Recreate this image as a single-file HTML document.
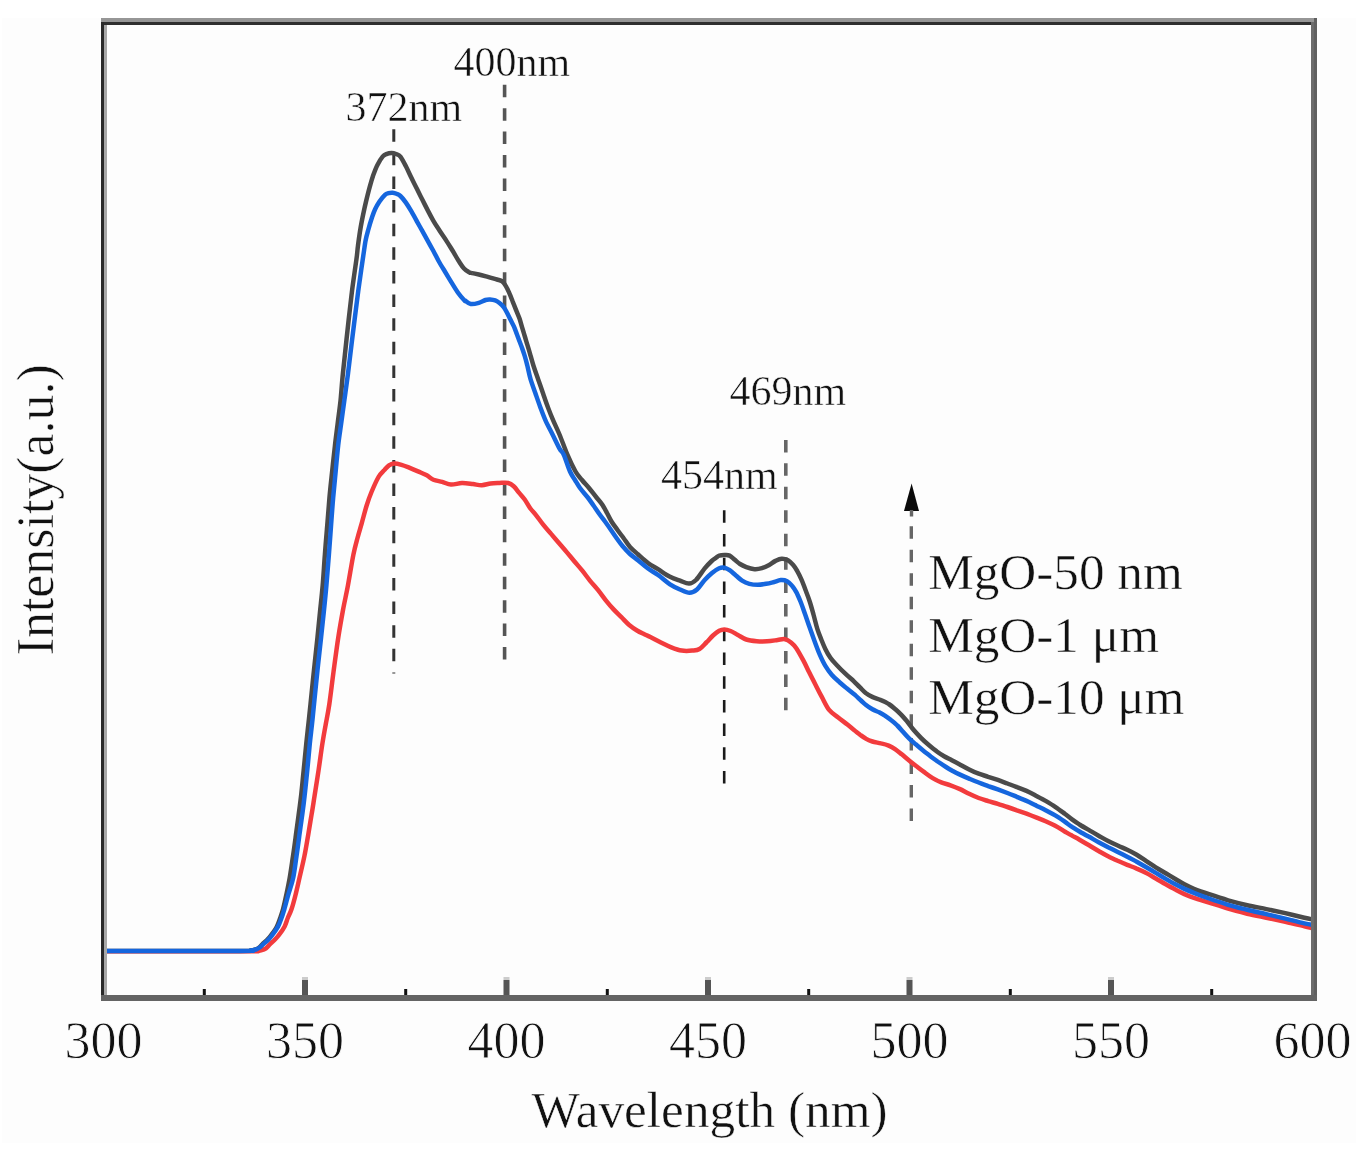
<!DOCTYPE html>
<html><head><meta charset="utf-8"><title>PL spectra</title>
<style>
html,body{margin:0;padding:0;background:#fff;}
body{width:1364px;height:1151px;overflow:hidden;font-family:"Liberation Serif", serif;}
svg{display:block;}
svg{will-change:transform;}
text{stroke:#fdfdfd;stroke-width:0.5px;paint-order:normal;}
text.tk{stroke-width:0.8px;}
</style></head><body>
<svg width="1364" height="1151" viewBox="0 0 1364 1151">
<rect x="0" y="0" width="1364" height="1151" fill="#ffffff"/>
<rect x="2" y="18" width="1354" height="1125" fill="#fdfdfd"/>
<line x1="393.8" y1="129.2" x2="393.8" y2="673.5" stroke="#333" stroke-width="3.0" stroke-dasharray="12.50,11.12" fill="none"/>
<line x1="504.6" y1="84.7" x2="504.6" y2="661.0" stroke="#555" stroke-width="3.6" stroke-dasharray="12.50,10.93" fill="none"/>
<line x1="724.2" y1="510.3" x2="724.2" y2="786.0" stroke="#1a1a1a" stroke-width="2.6" stroke-dasharray="12.50,11.20" fill="none"/>
<line x1="785.8" y1="439.9" x2="785.8" y2="711.0" stroke="#666" stroke-width="3.6" stroke-dasharray="12.50,10.95" fill="none"/>
<line x1="911.3" y1="526.2" x2="911.3" y2="821.0" stroke="#666" stroke-width="3.4" stroke-dasharray="12.50,11.02" fill="none"/>
<path d="M911.6,483.5 L904,511 L919,511 Z" fill="#0a0a0a"/>
<rect x="909.8" y="510" width="3.4" height="6.5" fill="#666"/>
<path d="M104.0,950.9 C126.7,950.9 215.7,950.9 240.0,950.9 C264.3,950.9 247.4,950.8 250.0,950.6 C252.6,950.4 253.9,950.0 255.5,949.5 C257.1,949.0 258.3,948.2 259.5,947.3 C260.7,946.4 261.2,945.3 262.5,944.1 C263.8,942.9 265.6,941.5 267.0,940.0 C268.4,938.5 269.4,937.6 271.0,935.4 C272.6,933.2 275.3,929.6 276.8,926.7 C278.3,923.8 279.2,920.9 280.2,918.0 C281.2,915.1 281.9,913.3 283.0,909.3 C284.1,905.3 285.4,899.2 286.5,894.0 C287.6,888.8 288.6,884.1 289.7,877.8 C290.8,871.5 291.9,863.4 293.0,856.1 C294.1,848.9 295.1,841.1 296.0,834.3 C296.9,827.4 297.8,821.4 298.6,815.0 C299.5,808.6 300.2,803.2 301.1,795.7 C302.0,788.2 302.8,778.7 303.7,770.0 C304.6,761.3 305.5,751.2 306.3,743.5 C307.1,735.8 307.7,730.5 308.4,724.0 C309.1,717.5 309.6,713.3 310.5,704.3 C311.4,695.3 312.8,681.2 314.0,670.0 C315.2,658.8 316.5,647.3 317.5,637.3 C318.5,627.3 319.3,618.7 320.2,610.0 C321.1,601.3 321.9,594.4 322.7,585.2 C323.5,576.0 324.1,564.5 324.9,554.6 C325.6,544.7 326.4,535.5 327.2,526.0 C328.0,516.5 328.7,506.5 329.5,497.3 C330.3,488.1 331.3,479.7 332.2,471.0 C333.1,462.3 334.1,453.3 335.0,445.2 C335.9,437.1 336.9,430.0 337.8,422.5 C338.7,415.0 339.8,408.0 340.6,400.0 C341.4,392.0 341.8,384.3 342.8,374.4 C343.8,364.5 344.9,353.7 346.4,340.5 C347.8,327.3 350.2,306.1 351.5,295.2 C352.8,284.3 353.3,281.6 354.2,275.0 C355.1,268.4 356.3,260.6 356.9,255.7 C357.5,250.8 357.4,249.9 358.0,245.5 C358.6,241.1 359.5,234.1 360.4,229.0 C361.2,223.9 362.1,219.5 363.1,214.7 C364.1,209.9 365.2,204.9 366.3,200.4 C367.4,195.9 368.5,191.4 369.6,187.4 C370.7,183.4 371.6,179.9 372.9,176.2 C374.2,172.5 375.6,168.5 377.3,165.2 C379.0,161.9 381.2,158.3 382.8,156.4 C384.4,154.5 385.5,154.4 387.0,153.8 C388.5,153.2 390.1,153.1 391.6,153.1 C393.1,153.1 394.5,153.4 396.0,154.0 C397.5,154.6 398.8,154.5 400.4,156.6 C402.0,158.7 404.1,162.8 405.9,166.3 C407.7,169.8 409.6,174.1 411.4,177.8 C413.2,181.6 415.1,185.1 416.9,188.8 C418.7,192.5 420.6,196.2 422.4,199.8 C424.2,203.4 426.1,207.1 427.9,210.6 C429.7,214.1 431.5,217.5 433.4,220.8 C435.3,224.1 437.3,227.1 439.5,230.5 C441.7,233.9 444.4,237.7 446.6,241.1 C448.8,244.5 450.8,247.8 452.8,251.0 C454.8,254.2 456.5,257.6 458.4,260.5 C460.3,263.4 462.1,266.5 464.0,268.5 C465.9,270.5 468.4,271.8 469.5,272.5 C470.6,273.2 469.2,272.6 470.8,272.9 C472.4,273.2 476.0,273.9 478.8,274.5 C481.6,275.1 484.8,276.0 487.8,276.8 C490.8,277.6 494.5,278.8 496.9,279.5 C499.3,280.2 500.8,280.3 502.2,281.3 C503.6,282.3 504.5,283.7 505.6,285.6 C506.8,287.5 507.9,290.0 509.1,292.6 C510.3,295.2 511.5,298.4 512.6,301.3 C513.8,304.2 514.9,307.0 516.0,309.9 C517.1,312.8 518.5,315.7 519.5,318.6 C520.5,321.5 521.2,324.4 522.1,327.3 C523.0,330.2 523.8,333.1 524.7,336.0 C525.6,338.9 526.4,341.8 527.3,344.7 C528.2,347.6 528.9,349.8 529.9,353.3 C530.9,356.8 532.0,361.1 533.4,365.5 C534.8,369.9 536.6,374.8 538.2,379.4 C539.8,384.0 541.4,388.7 543.0,393.3 C544.6,397.9 546.1,402.6 547.9,407.2 C549.6,411.8 551.5,416.5 553.5,421.1 C555.5,425.7 557.4,429.4 559.7,435.0 C562.0,440.6 564.9,448.9 567.5,455.0 C570.1,461.1 573.1,467.3 575.5,471.5 C577.9,475.7 579.8,477.2 582.0,480.0 C584.2,482.8 586.6,485.1 589.0,488.0 C591.4,490.9 594.2,494.7 596.5,497.5 C598.8,500.3 600.8,502.4 602.5,505.0 C604.2,507.6 605.5,510.2 607.0,513.0 C608.5,515.8 609.8,518.7 611.5,521.5 C613.2,524.3 615.5,527.2 617.5,530.0 C619.5,532.8 621.4,535.2 623.5,538.0 C625.6,540.8 627.5,544.2 630.0,547.0 C632.5,549.8 635.2,551.8 638.2,554.5 C641.2,557.2 644.7,560.5 648.0,563.0 C651.3,565.5 654.3,566.9 658.0,569.2 C661.7,571.5 666.3,574.8 670.0,576.7 C673.7,578.6 676.8,579.5 680.0,580.6 C683.2,581.8 686.3,583.7 689.0,583.6 C691.7,583.5 693.4,582.5 696.0,580.0 C698.6,577.5 702.1,571.6 704.7,568.4 C707.3,565.2 709.8,562.8 711.7,561.0 C713.6,559.2 714.8,558.7 716.0,557.8 C717.2,556.9 717.8,556.0 719.2,555.6 C720.6,555.2 722.7,555.1 724.4,555.1 C726.1,555.1 727.9,554.8 729.6,555.6 C731.3,556.4 733.1,558.4 734.8,559.8 C736.5,561.2 738.1,562.8 740.0,564.0 C741.9,565.2 743.9,566.2 746.3,567.1 C748.7,568.0 752.0,569.0 754.6,569.2 C757.2,569.4 759.5,568.9 761.9,568.2 C764.3,567.5 766.9,566.2 769.2,565.0 C771.5,563.8 773.4,561.9 775.5,560.9 C777.6,559.9 779.6,558.9 781.7,558.8 C783.8,558.7 786.1,559.3 788.0,560.3 C789.9,561.3 791.6,563.2 793.2,565.0 C794.8,566.8 796.0,568.9 797.4,571.3 C798.8,573.7 800.1,576.5 801.5,579.6 C802.9,582.7 804.1,586.4 805.5,590.0 C806.9,593.6 808.4,597.3 809.7,601.5 C811.1,605.7 812.3,610.4 813.6,615.0 C814.9,619.6 816.1,625.0 817.4,629.1 C818.7,633.2 820.0,636.2 821.3,639.5 C822.6,642.8 823.7,645.7 825.2,648.7 C826.7,651.8 828.5,655.0 830.4,657.8 C832.3,660.6 834.5,662.7 836.9,665.2 C839.3,667.8 842.0,670.5 844.8,673.1 C847.6,675.8 851.4,679.0 853.9,681.3 C856.4,683.7 858.0,685.5 860.0,687.4 C862.0,689.4 863.7,691.4 865.7,693.0 C867.8,694.6 869.8,695.8 872.3,696.9 C874.8,698.1 878.3,698.9 881.0,700.1 C883.7,701.2 886.3,702.4 888.7,704.0 C891.1,705.5 893.3,707.5 895.4,709.3 C897.5,711.1 899.2,712.7 901.1,714.6 C903.0,716.6 904.7,718.5 906.8,721.0 C908.9,723.6 911.1,726.8 913.5,729.7 C915.9,732.5 918.7,735.5 921.2,738.1 C923.8,740.7 926.2,742.8 928.8,745.0 C931.3,747.2 934.0,749.4 936.5,751.2 C939.0,753.1 941.6,754.7 944.1,756.2 C946.6,757.7 949.2,758.9 951.8,760.3 C954.4,761.7 956.9,763.0 959.8,764.5 C962.7,766.1 966.0,768.0 969.1,769.5 C972.2,771.1 975.5,772.5 978.7,773.7 C981.9,774.9 985.0,775.7 988.2,776.8 C991.4,777.8 994.6,778.8 997.8,779.9 C1001.0,781.0 1004.2,782.3 1007.4,783.5 C1010.6,784.7 1013.7,785.8 1016.9,787.1 C1020.1,788.3 1023.3,789.5 1026.5,790.9 C1029.7,792.3 1032.8,794.0 1036.0,795.7 C1039.2,797.3 1042.4,799.1 1045.6,800.9 C1048.8,802.8 1052.0,804.7 1055.2,806.8 C1058.4,808.9 1061.9,811.6 1064.7,813.7 C1067.5,815.8 1069.5,817.5 1072.0,819.3 C1074.5,821.1 1076.7,822.6 1079.5,824.5 C1082.3,826.3 1085.9,828.3 1089.1,830.1 C1092.3,832.0 1095.4,833.9 1098.6,835.7 C1101.8,837.5 1104.9,839.4 1108.1,841.0 C1111.3,842.6 1114.5,844.1 1117.7,845.5 C1120.9,847.0 1124.0,848.3 1127.2,849.8 C1130.4,851.3 1133.5,852.9 1136.7,854.8 C1139.9,856.7 1143.1,859.0 1146.3,861.1 C1149.5,863.2 1152.6,865.3 1155.8,867.3 C1159.0,869.3 1162.1,871.1 1165.3,873.0 C1168.5,874.9 1171.7,876.9 1174.9,878.7 C1178.1,880.6 1181.2,882.6 1184.4,884.3 C1187.6,886.0 1189.8,887.1 1193.9,888.8 C1198.0,890.4 1203.4,892.3 1209.1,894.2 C1214.8,896.1 1221.8,898.4 1228.1,900.3 C1234.4,902.1 1240.8,903.7 1247.2,905.2 C1253.6,906.6 1260.0,907.8 1266.3,909.1 C1272.6,910.4 1278.9,911.7 1285.3,913.1 C1291.7,914.6 1299.8,916.6 1304.4,917.7 C1309.0,918.8 1311.6,919.3 1313.0,919.6" fill="none" stroke="#4a4a4a" stroke-width="4.5" stroke-linejoin="round"/>
<path d="M104.0,951.3 C127.5,951.3 219.8,951.3 245.0,951.3 C270.2,951.2 252.3,951.2 255.0,951.0 C257.7,950.8 259.2,950.8 261.0,950.3 C262.8,949.8 264.5,949.3 266.0,948.3 C267.5,947.3 268.6,945.5 270.0,944.1 C271.4,942.7 273.1,941.5 274.5,940.0 C275.9,938.5 276.9,937.6 278.6,935.4 C280.3,933.2 283.0,929.6 284.5,926.7 C286.0,923.8 286.6,920.9 287.8,918.0 C289.0,915.1 290.2,913.1 291.5,909.3 C292.8,905.5 294.2,900.2 295.5,895.0 C296.8,889.8 298.0,884.3 299.5,877.8 C301.0,871.3 302.9,863.4 304.4,856.1 C305.9,848.9 307.1,841.1 308.3,834.3 C309.5,827.4 310.4,821.4 311.5,815.0 C312.6,808.6 313.4,803.2 314.6,795.7 C315.8,788.2 317.3,778.7 318.6,770.0 C319.9,761.3 321.2,751.2 322.4,743.5 C323.6,735.8 324.6,730.5 325.8,724.0 C327.0,717.5 328.0,713.0 329.3,704.3 C330.6,695.6 332.0,683.2 333.5,672.0 C335.0,660.8 336.7,647.6 338.3,637.3 C339.9,627.0 341.4,618.7 343.0,610.0 C344.6,601.3 346.3,594.4 348.0,585.2 C349.7,576.0 351.8,562.5 353.4,554.6 C355.0,546.7 356.1,543.2 357.5,538.0 C358.9,532.8 360.2,528.6 361.7,523.3 C363.2,518.0 364.9,511.2 366.5,506.0 C368.1,500.8 369.5,496.8 371.5,492.0 C373.5,487.2 376.4,480.7 378.5,477.0 C380.6,473.3 382.6,471.9 384.4,470.0 C386.1,468.1 387.4,466.4 389.0,465.3 C390.6,464.2 391.9,463.6 394.0,463.5 C396.1,463.4 399.0,464.1 401.5,464.8 C404.0,465.5 406.4,466.5 409.2,467.6 C411.9,468.7 415.1,470.1 418.0,471.4 C420.9,472.7 424.2,473.9 426.8,475.3 C429.4,476.7 430.8,478.6 433.4,479.7 C436.0,480.8 439.3,481.1 442.2,481.9 C445.1,482.7 447.7,484.4 451.0,484.6 C454.3,484.8 458.3,483.1 462.0,483.0 C465.7,482.9 469.7,483.7 473.0,484.1 C476.3,484.5 478.9,485.3 481.8,485.2 C484.7,485.1 487.7,483.9 490.6,483.5 C493.5,483.1 496.5,483.1 499.4,483.0 C502.3,482.9 505.8,482.4 508.2,483.0 C510.6,483.6 511.9,484.7 513.7,486.3 C515.5,487.9 517.4,490.7 519.2,492.9 C521.0,495.1 522.9,496.9 524.7,499.5 C526.5,502.1 528.4,505.8 530.2,508.3 C532.0,510.8 533.2,511.6 535.4,514.3 C537.6,517.0 540.6,521.4 543.2,524.7 C545.8,528.0 548.5,530.9 551.1,533.9 C553.7,536.9 556.3,540.0 558.9,543.0 C561.5,546.0 564.1,549.0 566.7,552.1 C569.3,555.2 571.9,558.4 574.5,561.5 C577.1,564.6 579.7,567.5 582.3,570.7 C584.9,573.9 587.5,577.6 590.1,580.8 C592.7,584.0 595.3,586.6 597.9,589.9 C600.5,593.1 603.2,597.0 605.8,600.3 C608.4,603.5 611.0,606.6 613.6,609.4 C616.2,612.2 618.8,614.6 621.4,617.2 C624.0,619.8 626.6,622.8 629.2,625.0 C631.8,627.2 634.4,628.9 637.0,630.5 C639.6,632.1 642.6,633.4 644.8,634.5 C647.0,635.6 647.7,635.7 650.4,637.0 C653.1,638.3 657.4,640.8 660.9,642.5 C664.4,644.2 667.8,646.0 671.3,647.4 C674.8,648.8 678.2,650.1 681.7,650.6 C685.2,651.1 689.2,650.9 692.2,650.6 C695.2,650.3 697.1,650.4 699.5,649.0 C701.9,647.6 704.5,644.2 706.8,642.0 C709.0,639.8 710.9,637.4 713.0,635.5 C715.1,633.6 717.3,631.8 719.2,630.8 C721.1,629.8 722.4,629.5 724.3,629.5 C726.2,629.5 728.3,630.1 730.6,631.0 C732.9,631.9 735.3,633.6 737.9,635.0 C740.5,636.4 743.2,638.5 746.3,639.5 C749.4,640.5 753.2,640.9 756.7,641.2 C760.2,641.5 763.6,641.5 767.1,641.3 C770.6,641.1 774.6,640.4 777.6,640.0 C780.6,639.6 782.8,638.8 785.0,639.2 C787.2,639.6 789.1,640.9 791.0,642.4 C792.9,643.9 794.2,645.2 796.3,648.2 C798.3,651.2 801.1,656.3 803.3,660.4 C805.5,664.5 807.3,668.5 809.3,672.6 C811.3,676.7 813.4,680.7 815.5,684.7 C817.6,688.8 819.5,692.7 821.8,696.9 C824.1,701.1 826.4,706.5 829.1,709.9 C831.8,713.3 835.2,715.0 838.2,717.4 C841.2,719.9 844.4,722.2 847.4,724.6 C850.4,727.1 854.4,730.2 856.5,731.9 C858.6,733.6 858.5,733.5 860.0,734.7 C861.5,735.8 863.6,737.5 865.7,738.6 C867.8,739.8 869.9,740.7 872.4,741.5 C874.9,742.3 878.3,742.7 881.0,743.4 C883.7,744.0 886.3,744.6 888.7,745.6 C891.1,746.6 893.2,747.8 895.4,749.3 C897.6,750.8 899.7,752.7 902.1,754.6 C904.5,756.6 907.2,759.0 909.7,761.0 C912.2,763.1 914.9,765.1 917.4,767.0 C919.9,769.0 922.5,770.9 925.0,772.7 C927.5,774.6 930.0,776.5 932.7,778.1 C935.4,779.7 938.3,781.2 941.3,782.4 C944.3,783.6 947.4,784.2 950.5,785.3 C953.6,786.4 956.9,787.7 960.0,789.1 C963.1,790.5 966.0,792.3 969.1,793.8 C972.2,795.3 975.5,796.8 978.7,798.0 C981.9,799.2 985.0,800.1 988.2,801.1 C991.4,802.1 994.6,802.9 997.8,803.9 C1001.0,804.9 1004.2,806.0 1007.4,807.0 C1010.6,808.1 1013.7,809.2 1016.9,810.4 C1020.1,811.5 1023.3,812.6 1026.5,813.7 C1029.7,814.9 1032.8,816.1 1036.0,817.3 C1039.2,818.6 1042.4,819.8 1045.6,821.2 C1048.8,822.6 1052.0,824.1 1055.2,825.8 C1058.4,827.5 1061.9,829.8 1064.7,831.5 C1067.5,833.1 1069.5,834.3 1072.0,835.6 C1074.5,837.0 1076.7,838.1 1079.5,839.7 C1082.3,841.3 1085.9,843.4 1089.1,845.3 C1092.3,847.2 1095.4,849.2 1098.6,851.0 C1101.8,852.8 1104.9,854.6 1108.1,856.2 C1111.3,857.8 1114.5,859.3 1117.7,860.8 C1120.9,862.2 1124.0,863.5 1127.2,864.8 C1130.4,866.1 1133.5,867.2 1136.7,868.6 C1139.9,869.9 1143.1,871.4 1146.3,873.1 C1149.5,874.7 1152.6,876.7 1155.8,878.5 C1159.0,880.3 1162.1,882.2 1165.3,884.0 C1168.5,885.8 1171.7,887.6 1174.9,889.3 C1178.1,891.0 1181.2,892.7 1184.4,894.1 C1187.6,895.5 1189.8,896.4 1193.9,897.8 C1198.0,899.2 1203.4,900.8 1209.1,902.6 C1214.8,904.4 1221.8,906.8 1228.1,908.6 C1234.4,910.5 1240.8,912.1 1247.2,913.7 C1253.6,915.2 1260.0,916.4 1266.3,917.7 C1272.6,919.0 1278.9,920.3 1285.3,921.7 C1291.7,923.1 1299.8,925.1 1304.4,926.2 C1309.0,927.3 1311.6,927.9 1313.0,928.2" fill="none" stroke="#f23b3d" stroke-width="4.5" stroke-linejoin="round"/>
<path d="M104.0,950.9 C126.7,950.9 215.7,950.9 240.0,950.9 C264.3,950.9 247.3,950.8 250.0,950.6 C252.7,950.4 254.3,950.0 256.0,949.5 C257.7,949.0 258.8,948.2 260.0,947.3 C261.2,946.4 262.0,945.3 263.3,944.1 C264.6,942.9 266.6,941.5 268.0,940.0 C269.4,938.5 270.3,937.6 272.0,935.4 C273.7,933.2 276.4,929.6 278.0,926.7 C279.6,923.8 280.4,920.9 281.5,918.0 C282.6,915.1 283.1,913.3 284.3,909.3 C285.5,905.3 287.0,899.2 288.5,894.0 C290.0,888.8 291.9,884.1 293.2,877.8 C294.5,871.5 295.4,863.4 296.5,856.1 C297.6,848.9 298.6,841.1 299.5,834.3 C300.4,827.4 301.3,821.4 302.2,815.0 C303.1,808.6 303.8,803.2 304.6,795.7 C305.5,788.2 306.4,778.7 307.3,770.0 C308.2,761.3 309.0,751.2 309.8,743.5 C310.6,735.8 311.3,730.5 312.0,724.0 C312.7,717.5 313.1,713.3 314.0,704.3 C314.9,695.3 316.3,681.2 317.5,670.0 C318.7,658.8 320.0,647.3 321.1,637.3 C322.2,627.3 323.1,618.7 324.0,610.0 C324.9,601.3 325.6,594.4 326.4,585.2 C327.2,576.0 328.1,564.5 328.9,554.6 C329.7,544.7 330.3,535.5 331.0,526.0 C331.7,516.5 332.4,506.5 333.2,497.3 C334.0,488.1 334.9,479.7 335.7,471.0 C336.5,462.3 337.3,453.3 338.2,445.2 C339.1,437.1 340.3,430.0 341.3,422.5 C342.3,415.0 343.3,408.0 344.4,400.0 C345.5,392.0 346.6,384.3 347.9,374.4 C349.2,364.5 350.4,353.7 352.0,340.5 C353.6,327.3 356.3,306.1 357.7,295.2 C359.1,284.3 359.6,281.6 360.5,275.0 C361.4,268.4 362.4,261.5 363.3,255.7 C364.2,249.9 364.8,244.4 365.7,240.0 C366.6,235.6 367.5,232.7 368.5,229.0 C369.5,225.3 370.7,221.3 371.8,218.0 C372.9,214.7 373.8,211.9 375.1,209.2 C376.4,206.4 377.9,203.9 379.5,201.5 C381.1,199.1 383.5,196.3 385.0,194.9 C386.5,193.5 387.2,193.6 388.5,193.2 C389.8,192.8 391.4,192.6 392.7,192.7 C394.0,192.8 395.2,193.2 396.5,193.8 C397.8,194.4 398.8,194.5 400.4,196.0 C402.0,197.5 404.1,200.0 405.9,202.6 C407.7,205.2 409.6,208.3 411.4,211.4 C413.2,214.5 415.1,218.0 416.9,221.3 C418.7,224.6 420.6,227.9 422.4,231.2 C424.2,234.5 426.1,237.8 427.9,241.1 C429.7,244.4 431.6,247.7 433.4,251.0 C435.2,254.3 436.7,257.6 438.6,261.0 C440.5,264.4 442.7,267.9 444.9,271.5 C447.1,275.1 449.4,279.0 451.6,282.6 C453.8,286.2 456.1,290.0 458.2,293.0 C460.3,296.0 463.3,299.2 464.5,300.5 C465.7,301.8 464.1,300.0 465.2,300.6 C466.2,301.2 468.5,303.6 470.8,304.0 C473.1,304.4 476.4,303.5 478.8,302.8 C481.2,302.1 483.6,300.6 485.5,300.0 C487.4,299.4 488.4,299.4 490.0,299.5 C491.6,299.6 493.6,299.8 495.2,300.4 C496.8,301.0 498.1,301.9 499.5,303.0 C500.9,304.1 502.6,305.6 503.9,307.3 C505.2,309.0 506.2,311.2 507.4,313.4 C508.5,315.6 509.7,318.0 510.8,320.3 C511.9,322.6 513.3,325.0 514.3,327.3 C515.3,329.6 516.0,331.9 516.9,334.2 C517.8,336.5 518.6,338.9 519.5,341.2 C520.4,343.5 521.2,345.7 522.1,348.1 C523.0,350.6 523.8,353.0 524.7,355.9 C525.6,358.8 526.3,361.6 527.3,365.5 C528.3,369.4 529.2,374.8 530.6,379.4 C532.0,384.0 533.8,388.7 535.4,393.3 C537.0,397.9 538.6,402.6 540.3,407.2 C542.0,411.8 543.7,416.5 545.8,421.1 C547.9,425.7 550.5,430.4 552.8,435.0 C555.1,439.6 557.9,445.6 559.7,448.9 C561.6,452.2 562.2,451.2 563.9,455.0 C565.6,458.8 568.1,467.3 570.0,471.5 C571.9,475.7 573.3,477.2 575.0,480.0 C576.7,482.8 577.9,485.1 580.0,488.0 C582.1,490.9 585.5,494.6 587.8,497.5 C590.0,500.4 591.6,502.8 593.5,505.5 C595.4,508.2 597.1,510.8 599.0,513.5 C600.9,516.2 603.0,518.8 605.0,521.5 C607.0,524.2 609.1,527.2 611.0,530.0 C612.9,532.8 614.6,535.3 616.5,538.0 C618.4,540.7 620.2,543.3 622.5,546.0 C624.8,548.7 627.4,551.6 630.0,554.0 C632.6,556.4 635.2,558.0 638.2,560.4 C641.2,562.8 644.7,566.1 648.0,568.5 C651.3,570.9 654.3,572.3 658.0,574.9 C661.7,577.5 666.3,581.9 670.0,584.3 C673.7,586.7 676.8,588.1 680.0,589.5 C683.2,590.9 686.7,592.8 689.5,592.8 C692.3,592.8 694.5,591.6 697.0,589.5 C699.5,587.4 702.2,582.7 704.7,580.0 C707.2,577.3 709.3,575.2 711.7,573.2 C714.1,571.2 717.1,569.1 719.2,568.2 C721.3,567.3 722.7,567.3 724.4,567.6 C726.1,567.9 727.7,568.9 729.6,570.2 C731.5,571.5 733.8,573.8 735.9,575.5 C738.0,577.2 739.9,579.3 742.1,580.7 C744.4,582.1 746.8,583.1 749.4,583.8 C752.0,584.5 755.0,584.8 757.8,584.8 C760.6,584.8 763.5,584.2 766.1,583.8 C768.7,583.4 771.0,582.8 773.4,582.2 C775.8,581.6 778.4,580.3 780.7,580.1 C783.0,579.9 785.1,580.2 787.0,581.2 C788.9,582.2 790.7,584.1 792.2,585.9 C793.8,587.7 794.9,589.5 796.3,592.1 C797.7,594.7 799.0,597.9 800.5,601.5 C802.0,605.1 803.5,609.8 805.0,614.0 C806.5,618.2 807.9,622.5 809.5,627.0 C811.1,631.5 812.8,636.3 814.5,641.0 C816.2,645.7 818.2,651.1 820.0,655.2 C821.8,659.3 823.2,662.4 825.2,665.6 C827.2,668.9 829.3,671.9 831.7,674.7 C834.1,677.5 836.9,679.9 839.5,682.2 C842.1,684.6 844.8,686.6 847.4,688.8 C850.0,690.9 852.9,693.2 855.2,695.1 C857.5,697.1 859.2,698.9 861.0,700.5 C862.8,702.1 863.8,703.3 865.7,704.7 C867.6,706.2 870.2,708.0 872.4,709.3 C874.6,710.6 877.0,711.3 879.1,712.3 C881.2,713.4 883.0,714.4 884.9,715.6 C886.8,716.9 888.5,718.1 890.6,719.8 C892.7,721.4 895.2,723.4 897.3,725.5 C899.4,727.5 901.1,729.7 903.0,731.8 C904.9,734.0 906.7,736.1 908.8,738.1 C910.9,740.2 913.0,742.0 915.4,744.1 C917.8,746.1 920.5,748.5 923.1,750.5 C925.7,752.6 928.2,754.5 930.7,756.5 C933.2,758.4 935.9,760.2 938.4,762.0 C940.9,763.7 943.5,765.4 946.0,767.0 C948.5,768.6 951.4,770.2 953.7,771.5 C956.0,772.8 957.4,773.4 960.0,774.6 C962.6,775.8 966.0,777.3 969.1,778.6 C972.2,779.9 975.5,781.3 978.7,782.5 C981.9,783.8 985.0,784.9 988.2,786.1 C991.4,787.2 994.6,788.3 997.8,789.4 C1001.0,790.6 1004.2,791.8 1007.4,793.0 C1010.6,794.2 1013.7,795.5 1016.9,796.8 C1020.1,798.1 1023.3,799.5 1026.5,800.9 C1029.7,802.3 1032.8,803.9 1036.0,805.4 C1039.2,807.0 1042.4,808.5 1045.6,810.2 C1048.8,811.9 1052.0,813.5 1055.2,815.4 C1058.4,817.3 1061.9,819.7 1064.7,821.6 C1067.5,823.6 1069.5,825.2 1072.0,826.9 C1074.5,828.5 1076.7,829.9 1079.5,831.5 C1082.3,833.2 1085.9,835.1 1089.1,836.8 C1092.3,838.6 1095.4,840.5 1098.6,842.2 C1101.8,843.9 1104.9,845.5 1108.1,847.2 C1111.3,848.8 1114.5,850.3 1117.7,851.9 C1120.9,853.5 1124.0,855.1 1127.2,856.7 C1130.4,858.3 1133.5,860.0 1136.7,861.7 C1139.9,863.5 1143.1,865.4 1146.3,867.2 C1149.5,869.1 1152.6,871.0 1155.8,872.9 C1159.0,874.8 1162.1,876.7 1165.3,878.6 C1168.5,880.5 1171.7,882.4 1174.9,884.1 C1178.1,885.8 1181.2,887.4 1184.4,888.9 C1187.6,890.3 1189.8,891.2 1193.9,892.8 C1198.0,894.4 1203.4,896.5 1209.1,898.5 C1214.8,900.5 1221.8,902.9 1228.1,904.8 C1234.4,906.7 1240.8,908.2 1247.2,909.8 C1253.6,911.4 1260.0,912.6 1266.3,914.1 C1272.6,915.6 1278.9,917.1 1285.3,918.6 C1291.7,920.2 1299.8,922.4 1304.4,923.4 C1309.0,924.4 1311.6,924.6 1313.0,924.8" fill="none" stroke="#1566de" stroke-width="4.5" stroke-linejoin="round"/>
<rect x="101" y="18" width="1216" height="4" fill="#969696"/>
<rect x="101" y="22" width="1216" height="3" fill="#2f2f2f"/>
<rect x="101" y="22" width="3" height="979" fill="#2a2a2a"/>
<rect x="104" y="25" width="3" height="970" fill="#a8a8a8"/>
<rect x="1311" y="22" width="3" height="979" fill="#6c6c6c"/>
<rect x="1314" y="18" width="3" height="983" fill="#606060"/>
<rect x="101" y="995" width="1216" height="6" fill="#646464"/>
<rect x="302.0" y="977" width="6" height="3" fill="#cccccc"/>
<rect x="302.0" y="980" width="6" height="15" fill="#555"/>
<rect x="503.5" y="977" width="6" height="3" fill="#cccccc"/>
<rect x="503.5" y="980" width="6" height="15" fill="#555"/>
<rect x="705.0" y="977" width="6" height="3" fill="#cccccc"/>
<rect x="705.0" y="980" width="6" height="15" fill="#555"/>
<rect x="906.5" y="977" width="6" height="3" fill="#cccccc"/>
<rect x="906.5" y="980" width="6" height="15" fill="#555"/>
<rect x="1108.0" y="977" width="6" height="3" fill="#cccccc"/>
<rect x="1108.0" y="980" width="6" height="15" fill="#555"/>
<rect x="202.8" y="989" width="3" height="6" fill="#111"/>
<rect x="404.2" y="989" width="3" height="6" fill="#111"/>
<rect x="605.8" y="989" width="3" height="6" fill="#111"/>
<rect x="807.2" y="989" width="3" height="6" fill="#111"/>
<rect x="1008.8" y="989" width="3" height="6" fill="#111"/>
<rect x="1210.2" y="989" width="3" height="6" fill="#111"/>
<text class="tk" x="103.5" y="1058" font-family='"Liberation Serif", serif' font-size="52" text-anchor="middle" fill="#111">300</text>
<text class="tk" x="305.0" y="1058" font-family='"Liberation Serif", serif' font-size="52" text-anchor="middle" fill="#111">350</text>
<text class="tk" x="506.5" y="1058" font-family='"Liberation Serif", serif' font-size="52" text-anchor="middle" fill="#111">400</text>
<text class="tk" x="708.0" y="1058" font-family='"Liberation Serif", serif' font-size="52" text-anchor="middle" fill="#111">450</text>
<text class="tk" x="909.5" y="1058" font-family='"Liberation Serif", serif' font-size="52" text-anchor="middle" fill="#111">500</text>
<text class="tk" x="1111.0" y="1058" font-family='"Liberation Serif", serif' font-size="52" text-anchor="middle" fill="#111">550</text>
<text class="tk" x="1312.5" y="1058" font-family='"Liberation Serif", serif' font-size="52" text-anchor="middle" fill="#111">600</text>
<text x="709.5" y="1127.2" font-family='"Liberation Serif", serif' font-size="51.3" text-anchor="middle" fill="#111">Wavelength (nm)</text>
<text transform="translate(53,509.8) rotate(-90)" x="0" y="0" font-family='"Liberation Serif", serif' font-size="51.9" text-anchor="middle" fill="#111">Intensity(a.u.)</text>
<text x="345.5" y="120.5" font-family='"Liberation Serif", serif' font-size="42" fill="#111">372nm</text>
<text x="453.5" y="75.7" font-family='"Liberation Serif", serif' font-size="42" fill="#111">400nm</text>
<text x="661.0" y="488.6" font-family='"Liberation Serif", serif' font-size="42" fill="#111">454nm</text>
<text x="729.5" y="405.4" font-family='"Liberation Serif", serif' font-size="42" fill="#111">469nm</text>
<text x="928.2" y="588.5" font-family='"Liberation Serif", serif' font-size="51.2" fill="#111">MgO-50 nm</text>
<text x="928.2" y="651.8" font-family='"Liberation Serif", serif' font-size="51.2" fill="#111">MgO-1 μm</text>
<text x="928.2" y="714.0" font-family='"Liberation Serif", serif' font-size="51.2" fill="#111">MgO-10 μm</text>
</svg>
</body></html>
